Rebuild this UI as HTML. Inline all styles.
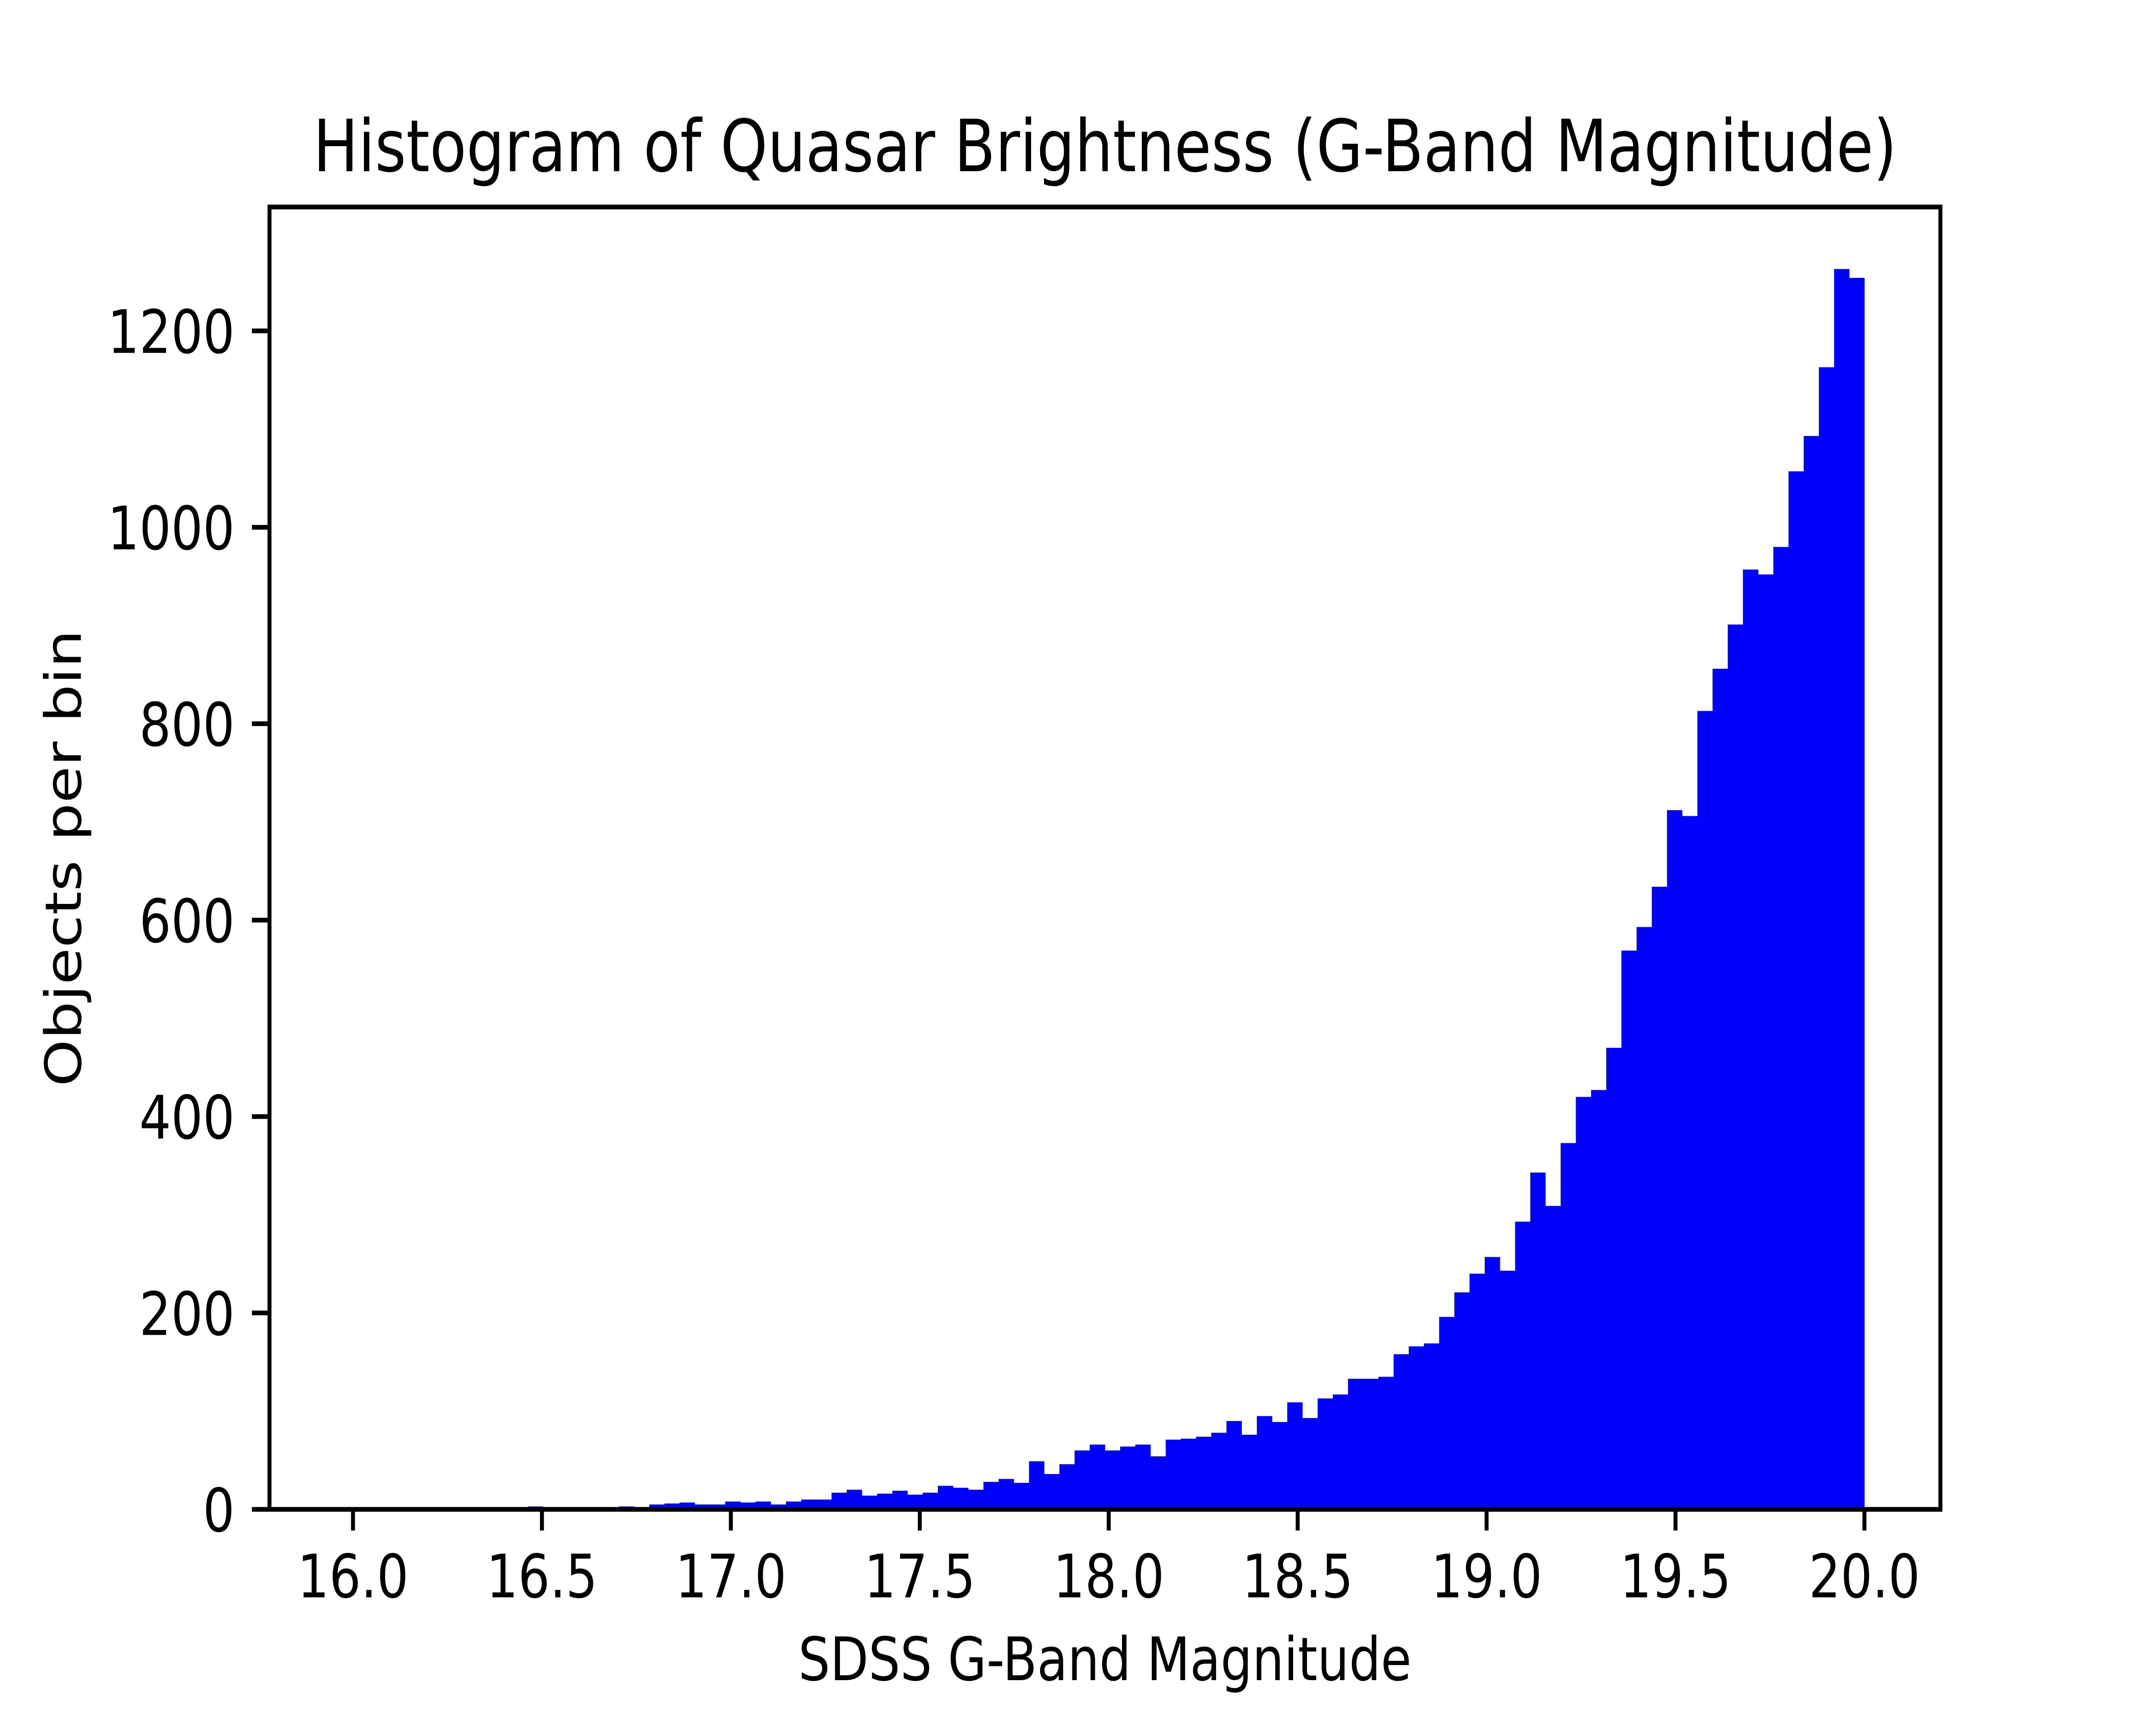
<!DOCTYPE html>
<html><head><meta charset="utf-8">
<style>html,body{margin:0;padding:0;background:#fff;overflow:hidden;width:100vw;height:100vh}svg{display:block;width:100vw;height:100vh}</style>
</head><body>
<svg id="chart" xmlns="http://www.w3.org/2000/svg" viewBox="0 0 6000 4000" preserveAspectRatio="none" font-family="'DejaVu Sans','Liberation Sans',sans-serif">
<rect x="0" y="0" width="6000" height="4000" fill="#fff"/>
<g id="bars"></g>
<g id="xticks"></g>
<g id="yticks"></g>
<rect x="750" y="480" width="4650" height="3020" fill="none" stroke="#000" stroke-width="11"/>
<text x="3075" y="397" font-size="167" text-anchor="middle">Histogram of Quasar Brightness (G-Band Magnitude)</text>
<text x="3075" y="3896" font-size="139" text-anchor="middle">SDSS G-Band Magnitude</text>
<text x="225" y="1990" font-size="139" text-anchor="middle" transform="rotate(-90 225 1990)">Objects per bin</text>
</svg>
<script>
const binStart = 15.98;
const binEnd = 20.0;
const counts = [0,0,0,0,0,0,0,0,0,0,0,0,3,0,0,0,0,0,3,0,
5,6,7,5,5,8,7,8,5,8,10,10,17,20,14,16,19,15,17,24,
22,20,28,31,27,49,36,46,60,66,60,64,66,54,71,72,74,78,90,76,
95,89,109,93,113,117,133,133,135,158,166,169,196,221,240,257,243,293,343,309,
373,420,427,470,569,593,634,712,706,813,856,901,957,952,980,1057,1093,1163,1263,1254];
const xTickValues = [16.0,16.5,17.0,17.5,18.0,18.5,19.0,19.5,20.0];
const xTickLabels = ["16.0","16.5","17.0","17.5","18.0","18.5","19.0","19.5","20.0"];
const yTickValues = [0,200,400,600,800,1000,1200];
const yTickLabels = ["0","200","400","600","800","1000","1200"];

const NS = "http://www.w3.org/2000/svg";
const L = 750, R = 5400, T = 480, B = 3500;
const range = binEnd - binStart;
const xmin = binStart - 0.05 * range, xmax = binEnd + 0.05 * range;
const ymax = 1.05 * Math.max(...counts);
function xs(v){ return L + (v - xmin) / (xmax - xmin) * (R - L); }
function ys(v){ return B - v / ymax * (B - T); }
function mk(tag, attrs){ const e = document.createElementNS(NS, tag); for (const k in attrs) e.setAttribute(k, attrs[k]); return e; }

const bw = range / counts.length;
const barsG = document.getElementById('bars');
counts.forEach((c, i) => {
  if (c <= 0) return;
  const x0 = xs(binStart + i * bw), x1 = xs(binStart + (i + 1) * bw);
  const r = mk('rect', {x: x0, y: ys(c), width: x1 - x0 + 0.5, height: B - ys(c), fill: '#0000ff'});
  
  
  barsG.appendChild(r);
});

const xg = document.getElementById('xticks');
xTickValues.forEach((v, i) => {
  const x = xs(v);
  const t = mk('line', {x1: x, x2: x, y1: B, y2: B + 49, stroke: '#000', 'stroke-width': 11});
  
  
  xg.appendChild(t);
  const l = mk('text', {x: x, y: 3704, 'font-size': 139, 'text-anchor': 'middle'});
  
  
  l.textContent = xTickLabels[i];
  xg.appendChild(l);
});

const yg = document.getElementById('yticks');
yTickValues.forEach((v, i) => {
  const y = ys(v);
  const t = mk('line', {x1: L - 49, x2: L, y1: y, y2: y, stroke: '#000', 'stroke-width': 11});
  
  
  yg.appendChild(t);
  const l = mk('text', {x: 653, y: y + 51, 'font-size': 139, 'text-anchor': 'end'});
  
  
  l.textContent = yTickLabels[i];
  yg.appendChild(l);
});
</script>
</body></html>
